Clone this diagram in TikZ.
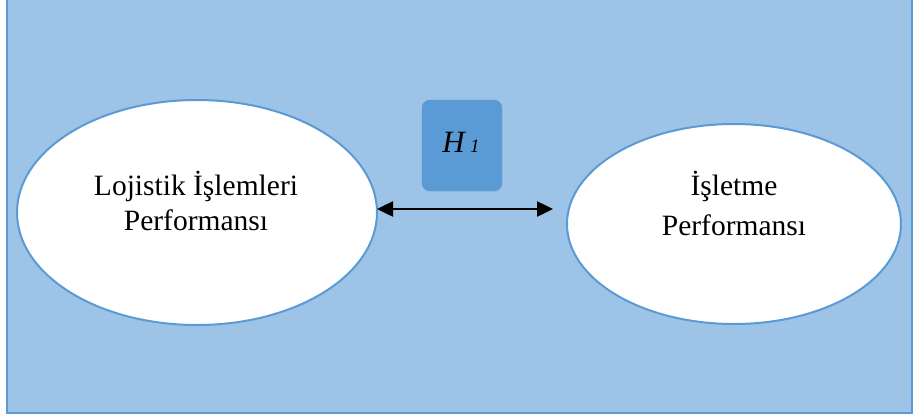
\documentclass[tikz,border=0pt]{standalone}
\usepackage{fontspec}
\setmainfont{Liberation Serif}
\usetikzlibrary{arrows.meta,shapes.geometric}
\definecolor{bgblue}{HTML}{9DC3E6}
\definecolor{midblue}{HTML}{5B9BD5}
\tikzset{
  oval/.style={ellipse, draw=midblue, line width=2pt, fill=white, inner sep=0pt},
  lbl/.style={align=center, font=\fontsize{29.5}{35}\selectfont, inner sep=0pt},
  hbox/.style={rounded corners=8pt, fill=midblue, draw=midblue, inner sep=0pt},
  link/.style={{Triangle[length=16pt,width=15pt]}-{Triangle[length=16pt,width=15pt]}, line width=2.5pt, black}
}
\begin{document}
\begin{tikzpicture}[x=1pt,y=-1pt]
\useasboundingbox (0,0) rectangle (914,418);
\draw[fill=bgblue, draw=midblue, line width=2pt] (7,-5) rectangle (912,413);
\node[oval, minimum width=360pt, minimum height=225pt] (L) at (197,212.5) {};
\node[oval, minimum width=334pt, minimum height=200pt] (R) at (734,224) {};
\node[lbl] (Lt) at (196,201) {Lojistik İşlemleri\\Performansı};
\node[lbl, font=\fontsize{29.5}{40}\selectfont] (Rt) at (734,203) {İşletme\\Performansı};
\node[hbox, minimum width=80pt, minimum height=91pt] (H) at (462,145.5) {};
\node[inner sep=0pt, anchor=base] (Ht) at (461,152) {\fontsize{31}{34}\selectfont\itshape H\,{\fontsize{19}{22}\selectfont 1}};
\coordinate (a1) at (377,209);
\coordinate (a2) at (553,209);
\draw[link] (a1) -- (a2);
\end{tikzpicture}
\end{document}
